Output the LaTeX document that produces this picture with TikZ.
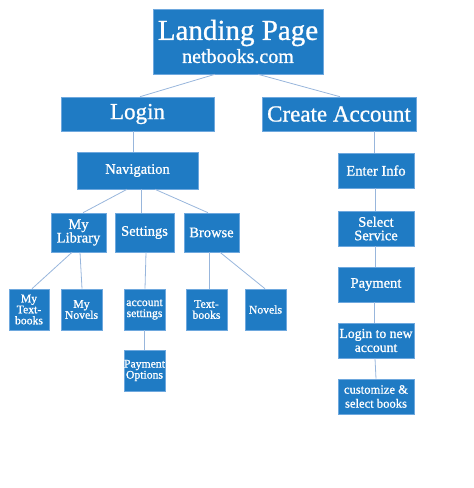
\documentclass[tikz,border=0pt]{standalone}
\usepackage{fontspec}
\setmainfont{Liberation Serif}[FakeBold=0.9]
\definecolor{boxblue}{RGB}{31,123,196}
\definecolor{edgeblue}{RGB}{110,168,222}
\definecolor{linkblue}{RGB}{152,182,220}
\begin{document}
\begin{tikzpicture}[x=1pt, y=-1pt,
  box/.style={fill=boxblue, draw=edgeblue, line width=.6pt, text=white, inner sep=0pt, align=center},
  topfont/.style={font=\fontsize{29}{23}\selectfont},
  bigfont/.style={font=\fontsize{23}{24}\selectfont},
  midfont/.style={font=\fontsize{14.5}{13.5}\selectfont},
  smallfont/.style={font=\fontsize{11.7}{11}\selectfont},
  link/.style={draw=linkblue, line width=.8pt}]
\useasboundingbox (0,0) rectangle (474,488);
% top of the site
\node[box, topfont, minimum width=170pt, minimum height=65pt] (land) at (238,41.5) {Landing Page\\{\fontsize{20}{23}\selectfont netbooks.com}};
\node[box, bigfont, minimum width=153pt, minimum height=34pt] (login) at (137.5,114) {Login};
\node[box, bigfont, minimum width=154pt, minimum height=34pt] (create) at (339,114) {Create Account};
% login side
\node[box, midfont, minimum width=121pt, minimum height=37pt] (nav) at (137.5,170.5) {Navigation};
\node[box, midfont, minimum width=55pt, minimum height=39pt] (mylib) at (78.5,232.5) {My\\Library};
\node[box, midfont, minimum width=59pt, minimum height=39pt] (settings) at (144.5,232.5) {Settings};
\node[box, midfont, minimum width=55pt, minimum height=39pt] (browse) at (211.5,232.5) {Browse};
\node[box, smallfont, minimum width=40pt, minimum height=41pt] (mytext) at (29,309.5) {My\\Text-\\books};
\node[box, smallfont, minimum width=41pt, minimum height=41pt] (mynovels) at (81.5,309.5) {My\\Novels};
\node[box, smallfont, minimum width=41pt, minimum height=41pt] (accset) at (144.5,309.5) {account\\settings};
\node[box, smallfont, minimum width=41pt, minimum height=41pt] (textbooks) at (206.5,309.5) {Text-\\books};
\node[box, smallfont, minimum width=41pt, minimum height=41pt] (novels) at (265.5,309.5) {Novels};
\node[box, smallfont, minimum width=41pt, minimum height=41pt] (payopt) at (144.5,370.5) {Payment\\Options};
% create account side
\node[box, midfont, minimum width=76pt, minimum height=35pt] (enter) at (376,170.5) {Enter Info};
\node[box, midfont, minimum width=76pt, minimum height=35pt] (select) at (376,228.5) {Select\\Service};
\node[box, midfont, minimum width=76pt, minimum height=35pt] (payment) at (376,284.5) {Payment};
\node[box, font=\fontsize{13.7}{14}\selectfont, minimum width=76pt, minimum height=35pt] (newlogin) at (376,340.5) {Login to new\\account};
\node[box, font=\fontsize{12.6}{14}\selectfont, minimum width=76pt, minimum height=35pt] (custom) at (376,396.5) {customize \&\\select books};
% connectors
\draw[link] ([xshift=-23pt]land.south) -- ([xshift=2.5pt]login.north);
\draw[link] ([xshift=20pt]land.south) -- ([xshift=1pt]create.north);
\draw[link] ([xshift=-4.5pt]login.south) -- ([xshift=-4.5pt]nav.north);
\draw[link] ([xshift=35pt]create.south) -- ([xshift=-2pt]enter.north);
\draw[link] ([xshift=-10.5pt]nav.south) -- ([xshift=4.5pt]mylib.north);
\draw[link] ([xshift=3.5pt]nav.south) -- ([xshift=-3.5pt]settings.north);
\draw[link] ([xshift=17.5pt]nav.south) -- ([xshift=-3.5pt]browse.north);
\draw[link] ([xshift=-6.5pt]mylib.south) -- ([xshift=3pt]mytext.north);
\draw[link] ([xshift=1.5pt]mylib.south) -- ([xshift=.5pt]mynovels.north);
\draw[link] ([xshift=1.5pt]settings.south) -- ([xshift=.5pt]accset.north);
\draw[link] ([xshift=-2.5pt]browse.south) -- ([xshift=2.5pt]textbooks.north);
\draw[link] ([xshift=8.5pt]browse.south) -- ([xshift=-.5pt]novels.north);
\draw[link] (accset) -- (payopt);
\draw[link] ([xshift=-1pt]enter.south) -- ([xshift=-1pt]select.north);
\draw[link] ([xshift=-1pt]select.south) -- ([xshift=-1pt]payment.north);
\draw[link] ([xshift=-2pt]payment.south) -- ([xshift=-2pt]newlogin.north);
\draw[link] ([xshift=-1pt]newlogin.south) -- ([xshift=0pt]custom.north);
\end{tikzpicture}
\end{document}
